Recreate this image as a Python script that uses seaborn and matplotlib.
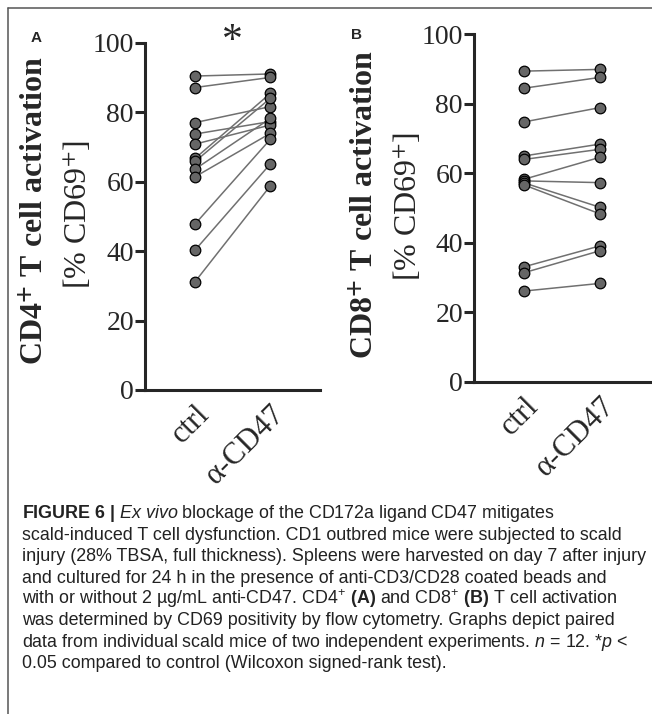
import pandas as pd
import seaborn as sns
import matplotlib
matplotlib.use("Agg")
from matplotlib import pyplot as plt
from matplotlib.lines import Line2D

#### data (paired values, same order = same mouse)
groups = ["ctrl", "α-CD47"]
cd4_ctrl = [90.4, 87.1, 77.0, 73.7, 70.8, 66.7, 65.8, 63.6, 61.4, 47.8, 40.3, 31.2]
cd4_acd47 = [91.0, 90.0, 81.6, 77.3, 76.3, 85.4, 84.0, 78.2, 73.9, 72.2, 65.1, 58.8]
cd8_ctrl = [89.4, 84.5, 74.8, 65.0, 64.0, 58.3, 57.8, 57.2, 56.6, 33.1, 31.4, 26.1]
cd8_acd47 = [89.9, 87.6, 78.9, 68.4, 66.9, 64.6, 57.3, 50.2, 48.3, 39.1, 37.7, 28.3]
yticks = [0, 20, 40, 60, 80, 100]

caption = [
    r"$\mathbf{FIGURE\ 6\ |}$ $\mathit{Ex\ vivo}$ blockage of the CD172a ligand CD47 mitigates",
    "scald-induced T cell dysfunction. CD1 outbred mice were subjected to scald",
    "injury (28% TBSA, full thickness). Spleens were harvested on day 7 after injury",
    "and cultured for 24 h in the presence of anti-CD3/CD28 coated beads and",
    r"with or without 2 µg/mL anti-CD47. CD4$^{+}$ $\mathbf{(A)}$ and CD8$^{+}$ $\mathbf{(B)}$ T cell activation",
    "was determined by CD69 positivity by flow cytometry. Graphs depict paired",
    r"data from individual scald mice of two independent experiments. $n$ = 12. *$p$ <",
    "0.05 compared to control (Wilcoxon signed-rank test).",
]

sns.set_style("ticks")
plt.rcParams["font.family"] = ["Liberation Serif", "DejaVu Serif"]
plt.rcParams["mathtext.fontset"] = "custom"
plt.rcParams["mathtext.rm"] = "Liberation Sans"
plt.rcParams["mathtext.it"] = "Liberation Sans:italic"
plt.rcParams["mathtext.bf"] = "Liberation Sans:bold"

W, H = 652, 714
fig = plt.figure(figsize=(W / 100, H / 100), dpi=100)
fig.patch.set_facecolor("white")


def long_form(ctrl, treated):
    n = len(ctrl)
    return pd.DataFrame({
        "mouse": list(range(n)) * 2,
        "group": [groups[0]] * n + [groups[1]] * n,
        "value": ctrl + treated,
    })


def px_axes(left, right, top, bottom):
    return fig.add_axes([left / W, 1 - bottom / H, (right - left) / W, (bottom - top) / H])


def panel(ax, df):
    sns.lineplot(data=df, x="group", y="value", units="mouse", estimator=None,
                 color="#707070", lw=1.1, sort=False, ax=ax)
    sns.scatterplot(data=df, x="group", y="value", s=58, color="#666666",
                    edgecolor="black", linewidth=0.9, ax=ax, zorder=3, clip_on=False)
    ax.set_xlim(-0.666, 1.66)
    ax.set_ylim(0, 100)
    ax.set_yticks(yticks)
    ax.set_xlabel("")
    ax.set_ylabel("")
    sns.despine(ax=ax)
    for s in ["left", "bottom"]:
        ax.spines[s].set_linewidth(2.2)
        ax.spines[s].set_capstyle("projecting")
    ax.tick_params(axis="y", length=7, width=2.2, labelsize=20, pad=1)
    ax.tick_params(axis="x", length=0, labelsize=22, pad=7)
    plt.setp(ax.get_xticklabels(), rotation=45, ha="right", rotation_mode="anchor")


axA = px_axes(145, 320, 42.7, 390)
panel(axA, long_form(cd4_ctrl, cd4_acd47))
axB = px_axes(474, 650, 34.3, 381.7)
panel(axB, long_form(cd8_ctrl, cd8_acd47))


def ftext(x, y, s, **kw):
    return fig.text(x / W, 1 - y / H, s, **kw)


# y labels (two lines, first bold)
ftext(35, 211, r"CD4$^{\mathbf{+}}$ T cell activation", rotation=90, fontsize=23,
      fontweight="bold", ha="center", va="center", math_fontfamily="stix")
ftext(78, 214, r"[% CD69$^{+}$]", rotation=90, fontsize=23, ha="center", va="center",
      math_fontfamily="stix")
ftext(365, 205, r"CD8$^{\mathbf{+}}$ T cell activation", rotation=90, fontsize=23,
      fontweight="bold", ha="center", va="center", math_fontfamily="stix")
ftext(408, 206, r"[% CD69$^{+}$]", rotation=90, fontsize=23, ha="center", va="center",
      math_fontfamily="stix")

# panel letters and significance star
ftext(36, 38, "A", fontsize=11, fontweight="bold", family="Liberation Sans", ha="center", va="center")
ftext(357, 35, "B", fontsize=11, fontweight="bold", family="Liberation Sans", ha="center", va="center")
ftext(232, 52, "*", fontsize=30, ha="center", va="baseline")

# frame of the figure box
fig.add_artist(Line2D([8 / W, 1], [1 - 8 / H, 1 - 8 / H], color="#555555", lw=1.1))
fig.add_artist(Line2D([8 / W, 8 / W], [1 - 8 / H, 0], color="#555555", lw=1.1))

# caption
baselines = [518, 540, 561, 583, 604, 625, 647, 668]
for line, yb in zip(caption, baselines):
    ftext(22, yb, line, fontsize=12.9, family="Liberation Sans", color="#222222",
          ha="left", va="baseline", math_fontfamily="custom")

fig.savefig("out.png", dpi=100, facecolor="white")
